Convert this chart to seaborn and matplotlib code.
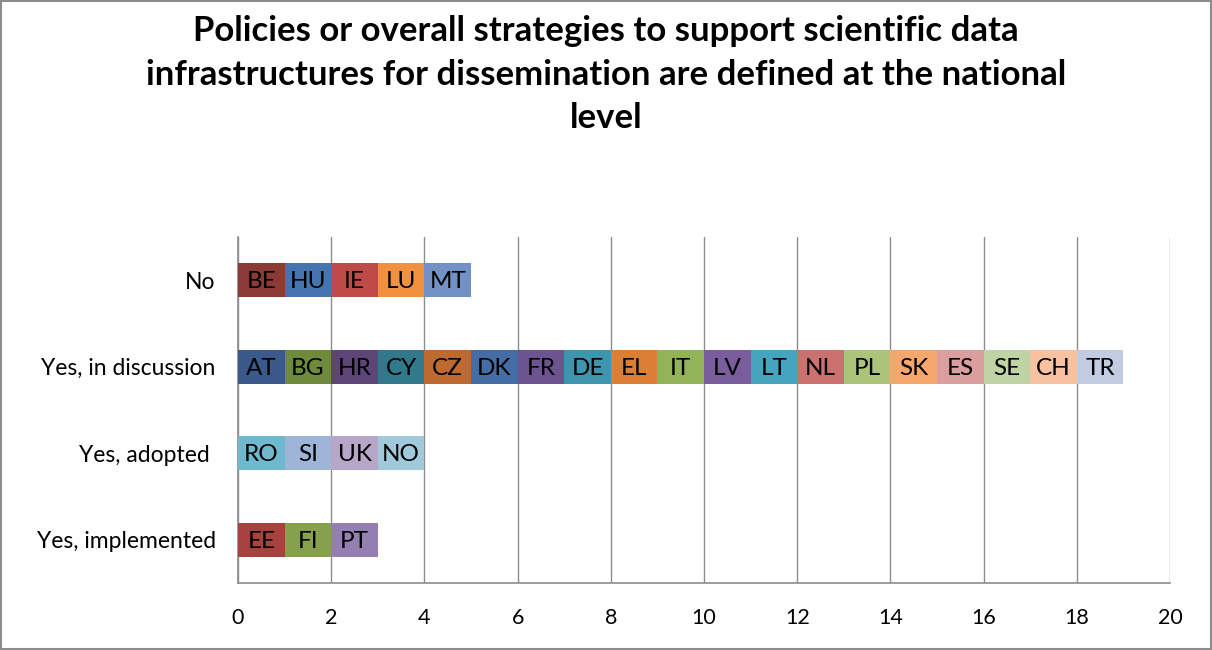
import pandas as pd
import matplotlib.pyplot as plt
import matplotlib.patches as mpatches
import seaborn as sns

# Data: each country counts 1 in its category
categories = ['No', 'Yes, in discussion', 'Yes, adopted ', 'Yes, implemented']
countries_no = ['BE', 'HU', 'IE', 'LU', 'MT']
countries_discussion = ['AT', 'BG', 'HR', 'CY', 'CZ', 'DK', 'FR', 'DE', 'EL', 'IT',
                        'LV', 'LT', 'NL', 'PL', 'SK', 'ES', 'SE', 'CH', 'TR']
countries_adopted = ['RO', 'SI', 'UK', 'NO']
countries_implemented = ['EE', 'FI', 'PT']

colors = {
    'BE': '#8B3A38', 'HU': '#4574B0', 'IE': '#BE4B48', 'LU': '#F0913F', 'MT': '#7292C6',
    'AT': '#395A8A', 'BG': '#6D8B3A', 'HR': '#5E4578', 'CY': '#317A8C', 'CZ': '#BD6A30',
    'DK': '#436DA4', 'FR': '#6D548F', 'DE': '#3F95AD', 'EL': '#DB7F34', 'IT': '#92B358',
    'LV': '#7A5D9C', 'LT': '#45A5BF', 'NL': '#CB7170', 'PL': '#ABC47A', 'SK': '#F6A76E',
    'ES': '#D99E9D', 'SE': '#C0D3A4', 'CH': '#F8C19F', 'TR': '#C1CCE0',
    'RO': '#6FB9CF', 'SI': '#9FB5D8', 'UK': '#B6A6C8', 'NO': '#A0C9DB',
    'EE': '#A6423F', 'FI': '#86A04B', 'PT': '#937FB2',
}

groups = [countries_no, countries_discussion, countries_adopted, countries_implemented]

# Build long table with cumulative ends for stacking
rows = []
for cat, group in zip(categories, groups):
    total = 0
    for c in group:
        total += 1
        rows.append({'Category': cat, 'Country': c, 'End': total})
df = pd.DataFrame(rows)
# draw longest segments first so shorter ones sit on top
hue_order = df.sort_values('End', ascending=False)['Country'].tolist()

sns.set_style('white')
plt.rcParams['font.family'] = ['Lato', 'DejaVu Sans']
plt.rcParams['text.color'] = 'black'
plt.rcParams['xtick.color'] = 'black'
plt.rcParams['ytick.color'] = 'black'

fig = plt.figure(figsize=(12.12, 6.5), dpi=100)
ax = fig.add_axes([0.1964, 0.1031, 0.7689, 0.5323])

sns.barplot(data=df, x='End', y='Category', hue='Country', order=categories,
            hue_order=hue_order, palette=colors, dodge=False, width=0.39,
            orient='h', saturation=1, linewidth=0, legend=False, ax=ax, zorder=3)

for _, r in df.iterrows():
    ax.text(r['End'] - 0.5, categories.index(r['Category']) + 0.02, r['Country'],
            ha='center', va='center', fontsize=17.5, color='black', zorder=4)

ax.set_xlim(0, 20)
ax.set_ylim(3.5, -0.5)
ax.set_xticks(range(0, 21, 2))
ax.grid(axis='x', color='#8C8C8C', linewidth=1, zorder=0)
ax.set_xlabel('')
ax.set_ylabel('')

for s in ['top', 'right']:
    ax.spines[s].set_visible(False)
for s in ['left', 'bottom']:
    ax.spines[s].set_color('#8C8C8C')
    ax.spines[s].set_linewidth(1.2)

ax.tick_params(axis='x', which='major', direction='out', length=6, color='#8C8C8C',
               labelsize=15.5, pad=12)
ax.tick_params(axis='y', which='major', length=0, labelsize=16.5, pad=16)
ax.set_yticks([-0.5, 0.5, 1.5, 2.5, 3.5], minor=True)
ax.tick_params(axis='y', which='minor', direction='out', length=6, color='#8C8C8C')

fig.text(0.5, 0.885, 'Policies or overall strategies to support scientific data\n'
         'infrastructures for dissemination are defined at the national\nlevel',
         ha='center', va='center', fontsize=25, fontweight='bold', linespacing=1.45)

fig.patches.append(mpatches.Rectangle((0.001, 0.001), 0.998, 0.997, transform=fig.transFigure,
                                      fill=False, edgecolor='#8C8C8C', linewidth=1.5))

fig.savefig('out.png', dpi=100)
